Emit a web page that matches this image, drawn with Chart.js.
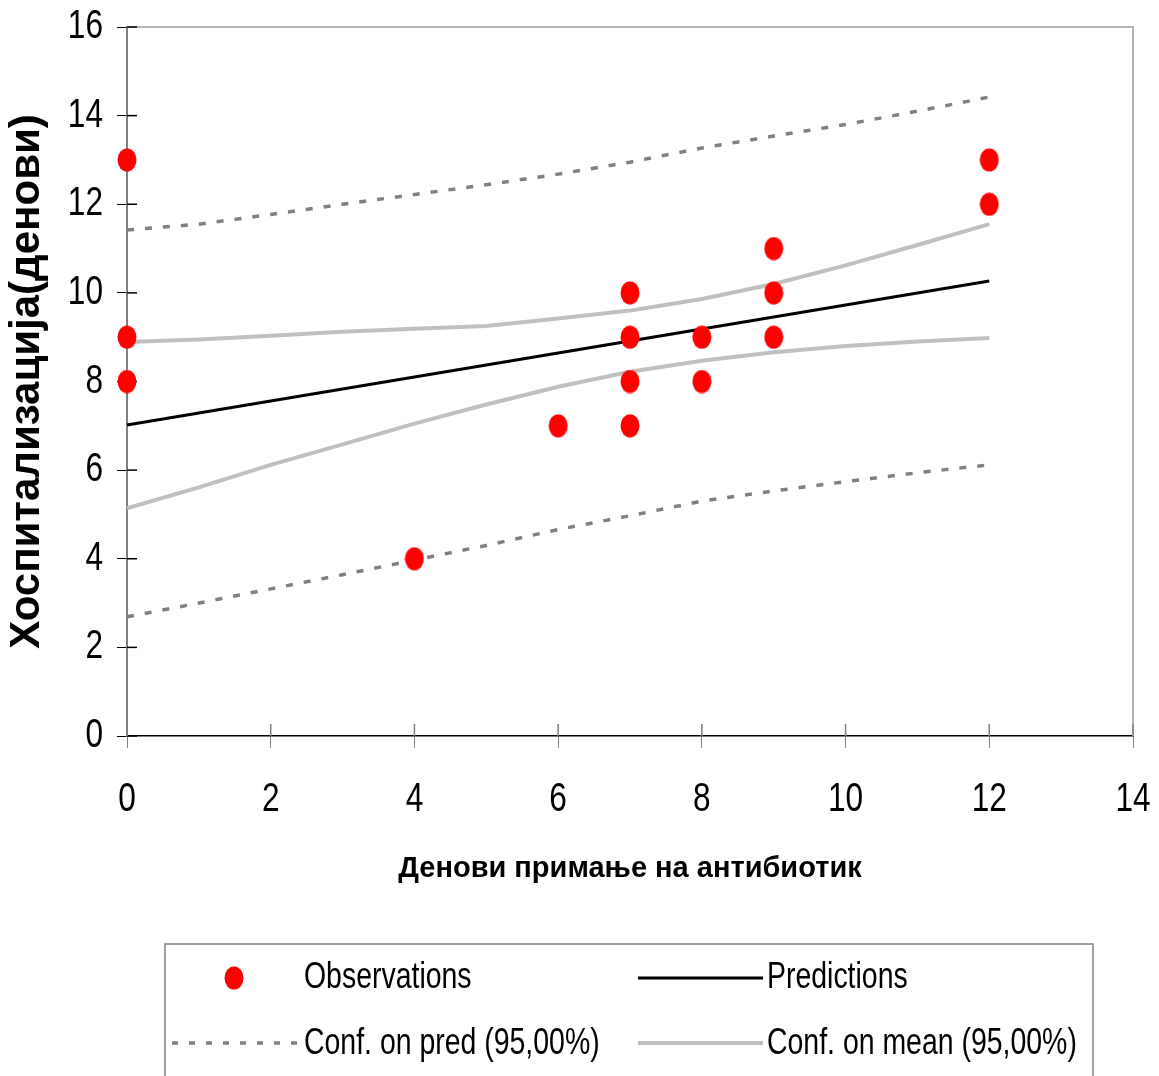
<!DOCTYPE html>
<html>
<head>
<meta charset="utf-8">
<script src="https://cdn.jsdelivr.net/npm/chart.js@4.4.1/dist/chart.umd.min.js"></script>
<style>
  body { margin: 0; background: #fff; }
  #wrap { width: 1159px; height: 1076px; position: relative; }
</style>
</head>
<body>
<div id="wrap"><canvas id="chart"></canvas></div>
<script>
// observations
var obsX = [0, 0, 0, 4, 6, 7, 7, 7, 7, 8, 8, 9, 9, 9, 12, 12];
var obsY = [13, 9, 8, 4, 7, 10, 9, 8, 7, 9, 8, 11, 10, 9, 13, 12];

// regression line
var predX = [0, 12];
var predY = [7.02, 10.27];

// confidence bands, read at each whole day
var bandX = [0, 1, 2, 3, 4, 5, 6, 7, 8, 9, 10, 11, 12];
var predUpper = [11.42, 11.55, 11.77, 12.0, 12.22, 12.44, 12.68, 12.95, 13.27, 13.54, 13.8, 14.1, 14.42];
var predLower = [2.69, 3.0, 3.32, 3.64, 3.97, 4.3, 4.66, 4.97, 5.3, 5.53, 5.74, 5.94, 6.12];
var meanUpper = [8.89, 8.95, 9.03, 9.12, 9.19, 9.25, 9.42, 9.6, 9.86, 10.2, 10.62, 11.08, 11.55];
var meanLower = [5.14, 5.61, 6.12, 6.58, 7.05, 7.48, 7.88, 8.22, 8.47, 8.66, 8.8, 8.9, 8.98];

var xTicks = [0, 2, 4, 6, 8, 10, 12, 14];
var yTicks = [0, 2, 4, 6, 8, 10, 12, 14, 16];

var xTitle = "Денови примање на антибиотик";
var yTitle = "Хоспитализација(денови)";
var labels = ["Observations", "Predictions", "Conf. on pred (95,00%)", "Conf. on mean (95,00%)"];

var fam = "'Liberation Sans', Arial, sans-serif";
var squeeze = 0.79; // the original text is drawn horizontally condensed

function pairs(xs, ys) {
    var out = [];
    for (var i = 0; i < xs.length; i++) out.push({x: xs[i], y: ys[i]});
    return out;
}

function narrowText(ctx, text, x, y, align, size) {
    ctx.save();
    ctx.font = size + "px " + fam;
    ctx.fillStyle = "#000";
    ctx.textAlign = align;
    ctx.textBaseline = "middle";
    ctx.translate(x, y);
    ctx.scale(squeeze, 1);
    ctx.fillText(text, 0, 0);
    ctx.restore();
}

// red ellipse used as point marker
var dot = document.createElement("canvas");
dot.width = 20; dot.height = 24;
var dc = dot.getContext("2d");
dc.fillStyle = "#ff0000";
dc.beginPath();
dc.ellipse(10, 12, 9.5, 11.5, 0, 0, Math.PI * 2);
dc.fill();

var lineBase = {type: "line", showLine: true, pointRadius: 0, fill: false, tension: 0, clip: false};

// tick marks crossing the axes, tick labels, and the light frame on top and right
var frame = {
    id: "frame",
    beforeDatasetsDraw: function(chart) {
        var ctx = chart.ctx, a = chart.chartArea, x = chart.scales.x, y = chart.scales.y;
        ctx.save();
        ctx.strokeStyle = "#b4b4b4";
        ctx.lineWidth = 2;
        ctx.beginPath();
        ctx.moveTo(a.left, a.top);
        ctx.lineTo(a.right, a.top);
        ctx.lineTo(a.right, a.bottom);
        ctx.stroke();
        ctx.lineWidth = 1.5;
        ctx.strokeStyle = "#000";
        yTicks.forEach(function(v) {
            var py = y.getPixelForValue(v);
            ctx.beginPath(); ctx.moveTo(a.left, py); ctx.lineTo(a.left + 10, py); ctx.stroke();
            narrowText(ctx, String(v), a.left - 24, py, "right", 40);
        });
        ctx.strokeStyle = "#808080";
        xTicks.forEach(function(v) {
            var px = x.getPixelForValue(v);
            ctx.beginPath(); ctx.moveTo(px, a.bottom); ctx.lineTo(px, a.bottom - 12); ctx.stroke();
            narrowText(ctx, String(v), px, a.bottom + 64, "center", 40);
        });
        ctx.restore();
    }
};

// legend box under the chart
var legendBox = {
    id: "legendBox",
    afterDraw: function(chart) {
        var ctx = chart.ctx;
        ctx.save();
        ctx.strokeStyle = "#808080";
        ctx.lineWidth = 1.5;
        ctx.strokeRect(165, 944, 928, 150);
        ctx.drawImage(dot, 224, 966);
        narrowText(ctx, labels[0], 304, 978, "left", 36);
        ctx.strokeStyle = "#000";
        ctx.lineWidth = 3;
        ctx.beginPath(); ctx.moveTo(638, 978); ctx.lineTo(763, 978); ctx.stroke();
        narrowText(ctx, labels[1], 767, 978, "left", 36);
        ctx.strokeStyle = "#808080";
        ctx.lineWidth = 3.5;
        ctx.setLineDash([6, 11]);
        ctx.beginPath(); ctx.moveTo(172, 1043); ctx.lineTo(302, 1043); ctx.stroke();
        ctx.setLineDash([]);
        narrowText(ctx, labels[2], 304, 1044, "left", 36);
        ctx.strokeStyle = "#c0c0c0";
        ctx.lineWidth = 4;
        ctx.beginPath(); ctx.moveTo(638, 1043); ctx.lineTo(763, 1043); ctx.stroke();
        narrowText(ctx, labels[3], 767, 1044, "left", 36);
        ctx.restore();
    }
};

var chart = new Chart(document.getElementById("chart").getContext("2d"), {
    type: "scatter",
    data: {
        datasets: [
            {label: labels[0], data: pairs(obsX, obsY), pointStyle: dot, pointRadius: 10, pointHoverRadius: 10, showLine: false, clip: false},
            Object.assign({}, lineBase, {label: labels[1], data: pairs(predX, predY), borderColor: "#000", borderWidth: 3}),
            Object.assign({}, lineBase, {label: labels[3], data: pairs(bandX, meanUpper), borderColor: "#c0c0c0", borderWidth: 4}),
            Object.assign({}, lineBase, {label: labels[3], data: pairs(bandX, meanLower), borderColor: "#c0c0c0", borderWidth: 4}),
            Object.assign({}, lineBase, {label: labels[2], data: pairs(bandX, predUpper), borderColor: "#808080", borderWidth: 3.5, borderDash: [7, 11]}),
            Object.assign({}, lineBase, {label: labels[2], data: pairs(bandX, predLower), borderColor: "#808080", borderWidth: 3.5, borderDash: [7, 11]})
        ]
    },
    options: {
        responsive: true,
        maintainAspectRatio: false,
        animation: false,
        layout: {padding: {left: 0, top: 27, right: 26, bottom: 180}},
        plugins: {legend: {display: false}, tooltip: {enabled: false}},
        scales: {
            x: {
                type: "linear", min: 0, max: 14,
                afterBuildTicks: function(s) { s.ticks = xTicks.map(function(v) { return {value: v}; }); },
                afterFit: function(s) { s.height = 160; },
                border: {color: "#000", width: 1.5},
                grid: {display: true, drawOnChartArea: false, drawTicks: true, tickLength: 12, tickColor: "#808080"},
                ticks: {display: false},
                title: {display: true, text: xTitle, color: "#000", padding: {top: 0, bottom: 10}, font: {family: fam, size: 29, weight: "bold"}}
            },
            y: {
                type: "linear", min: 0, max: 16,
                afterBuildTicks: function(s) { s.ticks = yTicks.map(function(v) { return {value: v}; }); },
                afterFit: function(s) { s.width = 127; },
                border: {color: "#808080", width: 2},
                grid: {display: true, drawOnChartArea: false, drawTicks: true, tickLength: 10, tickColor: "#000"},
                ticks: {display: false},
                title: {display: true, text: yTitle, color: "#000", padding: {top: 2, bottom: 0}, font: {family: fam, size: 42, weight: "bold"}}
            }
        }
    },
    plugins: [frame, legendBox]
});
</script>
</body>
</html>
